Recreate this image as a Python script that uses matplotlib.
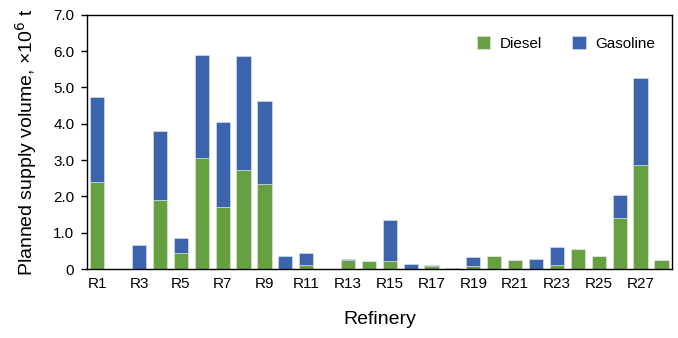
import numpy as np
import matplotlib
matplotlib.use("Agg")
from matplotlib import pyplot as plt

plt.rcParams["font.family"] = ["Liberation Sans", "DejaVu Sans"]

# supply volumes, x10^6 t
refineries = ["R%d" % i for i in range(1, 29)]
diesel = [2.39, 0.0, 0.0, 1.91, 0.44, 3.06, 1.72, 2.73, 2.33, 0.0,
          0.11, 0.0, 0.25, 0.23, 0.23, 0.0, 0.08, 0.0, 0.08, 0.36,
          0.26, 0.0, 0.11, 0.55, 0.35, 1.40, 2.87, 0.26]
gasoline = [2.36, 0.01, 0.66, 1.90, 0.41, 2.84, 2.33, 3.14, 2.30, 0.35,
            0.34, 0.0, 0.04, 0.0, 1.13, 0.13, 0.03, 0.04, 0.25, 0.0,
            0.0, 0.27, 0.50, 0.0, 0.0, 0.63, 2.39, 0.0]

x = np.arange(len(refineries))

fig = plt.figure(figsize=(6.78, 3.38), dpi=100)
ax = fig.add_axes([0.128, 0.204, 0.863, 0.752])

ax.bar(x, diesel, width=0.68, color="#66a040", edgecolor="#e8f0e0", linewidth=0.4, label="Diesel")
ax.bar(x, gasoline, width=0.68, bottom=diesel, color="#3b64ad", edgecolor="#dde6f4", linewidth=0.4, label="Gasoline")

ax.set_xlim(-0.5, 27.5)
ax.set_ylim(0, 7.0)
ax.set_yticks(np.arange(0, 8, 1.0))
ax.set_yticklabels(["0"] + ["%.1f" % v for v in np.arange(1, 8, 1.0)], fontsize=11)
ax.set_xticks(x[::2])
ax.set_xticklabels(refineries[::2], fontsize=11)
ax.tick_params(axis="x", length=0, pad=6)
ax.tick_params(axis="y", direction="out", length=4, width=1, pad=5)
for s in ax.spines.values():
    s.set_linewidth(1.0)

ax.set_xlabel("Refinery", fontsize=14, labelpad=14)
ax.set_ylabel("Planned supply volume, ×10$^6$ t", fontsize=14, labelpad=10)

ax.legend(loc="upper right", ncol=2, frameon=False, fontsize=11,
          handlelength=0.9, handleheight=0.9, handletextpad=0.6, columnspacing=2.0,
          bbox_to_anchor=(0.995, 0.97))

fig.savefig("out.png", dpi=100)
